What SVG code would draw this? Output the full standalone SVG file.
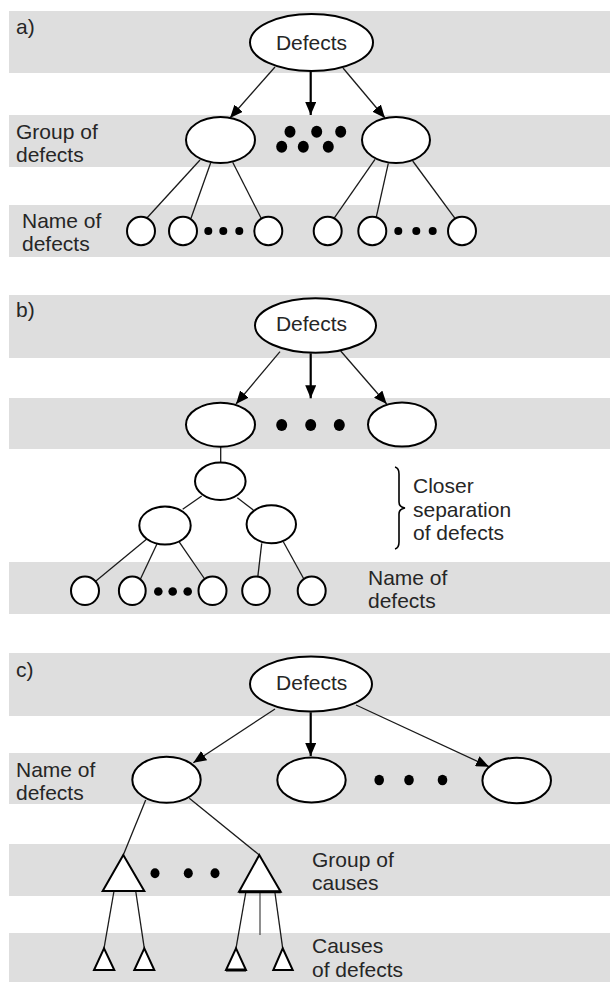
<svg xmlns="http://www.w3.org/2000/svg" width="610" height="983" viewBox="0 0 610 983">
<style>
.band{fill:#dedede;stroke:none}
.lbl{font-family:"Liberation Sans",Arial,sans-serif;font-size:21px;fill:#262626}
.node{fill:#fff;stroke:#000;stroke-width:2}
.dot{fill:#000;stroke:none}
.ln{stroke:#1a1a1a;stroke-width:1.3;fill:none}
.arr{stroke:#1a1a1a;stroke-width:1.3;fill:none;marker-end:url(#ah)}
.arrm{stroke:#000;stroke-width:2.2;fill:none;marker-end:url(#ah)}
</style>
<defs>
<marker id="ah" markerUnits="userSpaceOnUse" markerWidth="13" markerHeight="11" refX="13" refY="5.5" orient="auto">
<path d="M0,0 L13,5.5 L0,11 z" fill="#000"/>
</marker>
</defs>
<rect width="610" height="983" fill="#fff"/>
<g id="bands">
<rect class="band" x="9" y="11" width="601" height="62"/>
<rect class="band" x="9" y="115" width="601" height="52"/>
<rect class="band" x="9" y="205" width="601" height="52"/>
<rect class="band" x="9" y="295" width="601" height="63"/>
<rect class="band" x="9" y="398" width="601" height="51"/>
<rect class="band" x="9" y="562" width="601" height="52"/>
<rect class="band" x="9" y="653" width="601" height="63"/>
<rect class="band" x="9" y="753" width="601" height="51"/>
<rect class="band" x="9" y="844" width="601" height="52"/>
<rect class="band" x="9" y="933" width="601" height="49"/>
</g>
<g id="labels">
<text class="lbl" x="16" y="34">a)</text>
<text class="lbl" x="16" y="139">Group of</text>
<text class="lbl" x="16" y="162">defects</text>
<text class="lbl" x="22" y="228">Name of</text>
<text class="lbl" x="22" y="251">defects</text>
<text class="lbl" x="16" y="317">b)</text>
<text class="lbl" x="413" y="493">Closer</text>
<text class="lbl" x="413" y="517">separation</text>
<text class="lbl" x="413" y="540">of defects</text>
<text class="lbl" x="368" y="585">Name of</text>
<text class="lbl" x="368" y="608">defects</text>
<text class="lbl" x="16" y="677">c)</text>
<text class="lbl" x="16" y="777">Name of</text>
<text class="lbl" x="16" y="800">defects</text>
<text class="lbl" x="312" y="867">Group of</text>
<text class="lbl" x="312" y="890">causes</text>
<text class="lbl" x="312" y="953">Causes</text>
<text class="lbl" x="312" y="977">of defects</text>
</g>
<g id="connectors">
<!-- a -->
<line class="arr" x1="275" y1="67" x2="230" y2="118"/>
<line class="arrm" x1="310.7" y1="71" x2="310.7" y2="115"/>
<line class="arr" x1="343" y1="68" x2="385" y2="118"/>
<line class="ln" x1="200" y1="160" x2="146.7" y2="218.3"/>
<line class="ln" x1="210.7" y1="162.7" x2="191" y2="218.3"/>
<line class="ln" x1="232.7" y1="162.3" x2="261.7" y2="219.3"/>
<line class="ln" x1="375" y1="159.3" x2="333.3" y2="219.3"/>
<line class="ln" x1="388.3" y1="163.3" x2="376" y2="218.3"/>
<line class="ln" x1="412.7" y1="161" x2="455" y2="218.3"/>
<!-- b -->
<line class="arr" x1="280" y1="351.7" x2="236" y2="404"/>
<line class="arrm" x1="310.7" y1="353.3" x2="310.7" y2="398.3"/>
<line class="arr" x1="340.7" y1="351" x2="386.7" y2="404"/>
<line class="ln" x1="220.7" y1="446.7" x2="220.7" y2="462.7"/>
<line class="ln" x1="201.7" y1="496" x2="182.7" y2="509.3"/>
<line class="ln" x1="237.3" y1="497.7" x2="253.3" y2="510"/>
<line class="ln" x1="148.3" y1="537.7" x2="95" y2="581.7"/>
<line class="ln" x1="157.3" y1="543.3" x2="140" y2="580"/>
<line class="ln" x1="179" y1="541.7" x2="206" y2="581"/>
<line class="ln" x1="261.7" y1="543.3" x2="257.7" y2="577.7"/>
<line class="ln" x1="283.3" y1="541.7" x2="304" y2="579.3"/>
<path d="M395,467 Q399,468 399,474 L399,502 Q399,507 405,508 Q399,509 399,514 L399,542 Q399,548 395,549" fill="none" stroke="#000" stroke-width="1.6"/>
<!-- c -->
<line class="arr" x1="275" y1="709" x2="193.3" y2="762.7"/>
<line class="arrm" x1="310.7" y1="712.3" x2="310.7" y2="756"/>
<line class="arr" x1="356" y1="705" x2="489" y2="766.7"/>
<line class="ln" x1="145.7" y1="800" x2="123.3" y2="855"/>
<line class="ln" x1="189.3" y1="798.3" x2="259.3" y2="855"/>
<line class="ln" x1="114" y1="891" x2="104" y2="948.3" stroke-width="2"/>
<line class="ln" x1="135.7" y1="891" x2="144.3" y2="948.3" stroke-width="2"/>
<line class="ln" x1="245.7" y1="893" x2="236" y2="948.3" stroke-width="2"/>
<line class="ln" x1="275" y1="893" x2="282.7" y2="948.3" stroke-width="2"/>
<line x1="260" y1="893" x2="260" y2="935" stroke="#444" stroke-width="1.2"/>
</g>
<!-- section a nodes -->
<g id="a-defects"><ellipse class="node" cx="311.5" cy="42.5" rx="61.5" ry="28.5"/><text class="lbl" x="311.5" y="49.5" text-anchor="middle">Defects</text></g>
<g id="a-group1"><ellipse class="node" cx="220.5" cy="140" rx="34.5" ry="23"/></g>
<g id="a-group2"><ellipse class="node" cx="396" cy="140" rx="34" ry="23"/></g>
<g id="a-dots">
<ellipse class="dot" cx="290" cy="131.7" rx="5.5" ry="6"/>
<ellipse class="dot" cx="316.7" cy="131.7" rx="5.5" ry="6"/>
<ellipse class="dot" cx="340.7" cy="131.7" rx="5.5" ry="6"/>
<ellipse class="dot" cx="281.7" cy="146.7" rx="5.5" ry="6"/>
<ellipse class="dot" cx="303.3" cy="146.7" rx="5.5" ry="6"/>
<ellipse class="dot" cx="328.3" cy="146.7" rx="5.5" ry="6"/>
</g>
<g id="a-leaf1"><ellipse class="node" cx="141" cy="231" rx="14" ry="14.2"/></g>
<g id="a-leaf2"><ellipse class="node" cx="183" cy="231" rx="14" ry="14.2"/></g>
<g id="a-leaf3"><ellipse class="node" cx="268.3" cy="231" rx="14" ry="14.2"/></g>
<g id="a-leaf4"><ellipse class="node" cx="327.7" cy="231" rx="14" ry="14.2"/></g>
<g id="a-leaf5"><ellipse class="node" cx="372.3" cy="231" rx="14" ry="14.2"/></g>
<g id="a-leaf6"><ellipse class="node" cx="462" cy="231" rx="14" ry="14.2"/></g>
<g id="a-leafdots">
<circle class="dot" cx="208.3" cy="231" r="4"/><circle class="dot" cx="223.3" cy="231" r="4"/><circle class="dot" cx="239.3" cy="231" r="4"/>
<circle class="dot" cx="398.3" cy="231" r="4"/><circle class="dot" cx="416.3" cy="231" r="4"/><circle class="dot" cx="432.7" cy="231" r="4"/>
</g>
<!-- section b nodes -->
<g id="b-defects"><ellipse class="node" cx="315.5" cy="325.5" rx="60.5" ry="27.2"/><text class="lbl" x="311.5" y="330.5" text-anchor="middle">Defects</text></g>
<g id="b-group1"><ellipse class="node" cx="220.5" cy="424.7" rx="34.5" ry="22"/></g>
<g id="b-group2"><ellipse class="node" cx="402" cy="424.5" rx="34" ry="22"/></g>
<g id="b-dots"><ellipse class="dot" cx="281.7" cy="425" rx="5.5" ry="6"/><ellipse class="dot" cx="310.7" cy="425" rx="5.5" ry="6"/><ellipse class="dot" cx="339.3" cy="425" rx="5.5" ry="6"/></g>
<g id="b-mid"><ellipse class="node" cx="220.3" cy="481.3" rx="25.3" ry="18.7"/></g>
<g id="b-sub1"><ellipse class="node" cx="165" cy="525.5" rx="25.7" ry="19"/></g>
<g id="b-sub2"><ellipse class="node" cx="271.3" cy="524.3" rx="24.7" ry="19"/></g>
<g id="b-leaf1"><ellipse class="node" cx="85" cy="590.8" rx="14" ry="14.2"/></g>
<g id="b-leaf2"><ellipse class="node" cx="132.3" cy="590.8" rx="13.4" ry="14.2"/></g>
<g id="b-leaf3"><ellipse class="node" cx="212.5" cy="590.8" rx="14" ry="14.2"/></g>
<g id="b-leaf4"><ellipse class="node" cx="256" cy="590.8" rx="13.8" ry="14.2"/></g>
<g id="b-leaf5"><ellipse class="node" cx="311.7" cy="590.8" rx="14" ry="14.2"/></g>
<g id="b-leafdots"><circle class="dot" cx="158.3" cy="591.5" r="4.3"/><circle class="dot" cx="172.7" cy="591.5" r="4.3"/><circle class="dot" cx="187.7" cy="591.5" r="4.3"/></g>
<!-- section c nodes -->
<g id="c-defects"><ellipse class="node" cx="311" cy="684" rx="61" ry="27.5"/><text class="lbl" x="311.7" y="690" text-anchor="middle">Defects</text></g>
<g id="c-name1"><ellipse class="node" cx="166.5" cy="779.7" rx="34.2" ry="23"/></g>
<g id="c-name2"><ellipse class="node" cx="311.5" cy="780" rx="34.2" ry="22.5"/></g>
<g id="c-name3"><ellipse class="node" cx="516.7" cy="780.5" rx="34.3" ry="22.8"/></g>
<g id="c-dots"><ellipse class="dot" cx="379.2" cy="780" rx="4.8" ry="5.3"/><ellipse class="dot" cx="409" cy="780" rx="4.8" ry="5.3"/><ellipse class="dot" cx="442.5" cy="780" rx="4.8" ry="5.3"/></g>
<g id="c-cause-group1"><polygon class="node" points="123.3,855 102.7,891 144.3,891"/></g>
<g id="c-cause-group2"><polygon class="node" points="259.3,855 239,891.7 280.7,891.7"/><line x1="239" y1="891.7" x2="280.7" y2="891.7" stroke="#000" stroke-width="3"/></g>
<g id="c-tri-dots"><ellipse class="dot" cx="155" cy="873.3" rx="4.5" ry="5"/><ellipse class="dot" cx="188.3" cy="873.3" rx="4.5" ry="5"/><ellipse class="dot" cx="215" cy="873.3" rx="4.5" ry="5"/></g>
<g id="c-cause1"><polygon class="node" points="104,948.3 94,970 114.3,970"/></g>
<g id="c-cause2"><polygon class="node" points="144.3,948.3 134.3,970 154.3,970"/></g>
<g id="c-cause3"><polygon class="node" points="236,948.3 226,970 246,970"/><line x1="226" y1="970" x2="246" y2="970" stroke="#000" stroke-width="3"/></g>
<g id="c-cause4"><polygon class="node" points="282.7,948.3 273.3,970 292.7,970"/></g>
</svg>
